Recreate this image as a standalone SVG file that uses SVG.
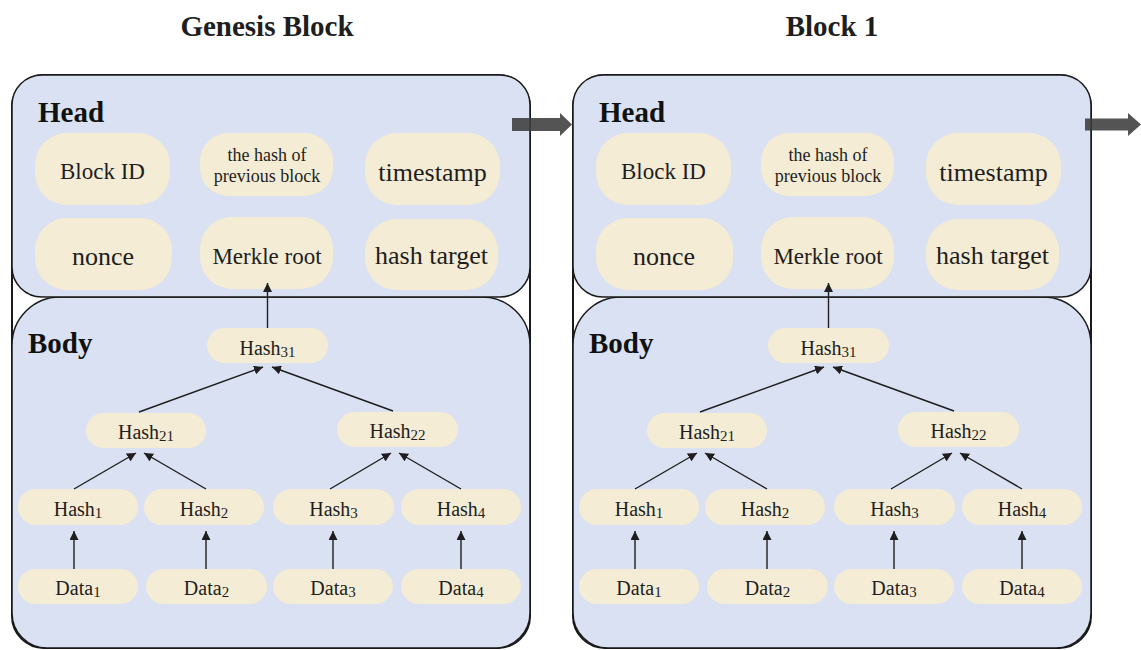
<svg xmlns="http://www.w3.org/2000/svg" width="1141" height="650" viewBox="0 0 1141 650">
<style>
.frame{fill:#ffffff;stroke:#1a1a1a;stroke-width:2}
.panel{fill:#d9e1f2;stroke:#1a1a1a;stroke-width:1.5}
.pill{fill:#f4ecd4;stroke:none}
.t{font-family:"Liberation Serif","Times New Roman",serif;fill:#1e1e1e;text-anchor:middle}
.title{font-family:"Liberation Serif","Times New Roman",serif;font-weight:bold;font-size:29px;fill:#1e1e1e;text-anchor:middle}
.lbl{font-family:"Liberation Serif","Times New Roman",serif;font-weight:bold;font-size:29px;fill:#111}
.big{font-size:26px}
.mid{font-size:23px}
.sm{font-size:18px}
.h{font-size:20px}
.sub{font-size:15px}
.conn{stroke:#1e1e1e;stroke-width:1.4;fill:none;marker-end:url(#ah)}
.blk{fill:#3c3c3c;opacity:0.88}
</style>
<defs>
<marker id="ah" viewBox="0 0 10 10" refX="10" refY="5" markerWidth="9" markerHeight="9" markerUnits="userSpaceOnUse" orient="auto">
<path d="M0,0 L10,5 L0,10 z" fill="#1e1e1e"/>
</marker>
</defs>

<text class="title" x="267" y="36">Genesis Block</text>
<text class="title" x="832" y="36">Block 1</text>

<g id="block0">
  <rect class="frame" x="12" y="75" width="518" height="573" rx="32"/>
  <path class="panel" d="M60,297 H482 A48,48 0 0 1 530,345 V613 A35,35 0 0 1 495,648 H47 A35,35 0 0 1 12,613 V345 A48,48 0 0 1 60,297 Z"/>
  <rect class="panel" x="12" y="75" width="518" height="222" rx="30"/>
  <text class="lbl" x="38" y="122">Head</text>
  <text class="lbl" x="28" y="353">Body</text>
  <g id="b0-blockid"><rect class="pill" x="35" y="133" width="135" height="72" rx="32"/><text class="t mid" x="102.5" y="179">Block ID</text></g>
  <g id="b0-prevhash"><rect class="pill" x="200" y="133" width="133" height="63" rx="28"/><text class="t sm" x="267" y="161">the hash of</text><text class="t sm" x="267" y="182">previous block</text></g>
  <g id="b0-timestamp"><rect class="pill" x="365" y="133" width="135" height="72" rx="32"/><text class="t big" x="432.5" y="181">timestamp</text></g>
  <g id="b0-nonce"><rect class="pill" x="35" y="218" width="137" height="72" rx="32"/><text class="t big" x="103" y="265">nonce</text></g>
  <g id="b0-merkle"><rect class="pill" x="200" y="217" width="133" height="72" rx="32"/><text class="t mid" x="267" y="264">Merkle root</text></g>
  <g id="b0-target"><rect class="pill" x="365" y="219" width="133" height="71" rx="32"/><text class="t big" x="431.5" y="264">hash target</text></g>
  <g id="b0-hash31"><rect class="pill" x="207" y="328" width="121" height="35" rx="17.5"/><text class="t h" x="267.5" y="355">Hash<tspan class="sub" dy="2">31</tspan></text></g>
  <g id="b0-hash21"><rect class="pill" x="86" y="413" width="120" height="35" rx="17.5"/><text class="t h" x="146" y="439">Hash<tspan class="sub" dy="2">21</tspan></text></g>
  <g id="b0-hash22"><rect class="pill" x="337" y="412" width="121" height="35" rx="17.5"/><text class="t h" x="397.5" y="438">Hash<tspan class="sub" dy="2">22</tspan></text></g>
  <g id="b0-hash1"><rect class="pill" x="18" y="489" width="120" height="36" rx="18"/><text class="t h" x="78" y="516">Hash<tspan class="sub" dy="2">1</tspan></text></g>
  <g id="b0-hash2"><rect class="pill" x="144" y="489" width="120" height="36" rx="18"/><text class="t h" x="204" y="516">Hash<tspan class="sub" dy="2">2</tspan></text></g>
  <g id="b0-hash3"><rect class="pill" x="273" y="489" width="121" height="36" rx="18"/><text class="t h" x="333.5" y="516">Hash<tspan class="sub" dy="2">3</tspan></text></g>
  <g id="b0-hash4"><rect class="pill" x="401" y="489" width="120" height="36" rx="18"/><text class="t h" x="461" y="516">Hash<tspan class="sub" dy="2">4</tspan></text></g>
  <g id="b0-data1"><rect class="pill" x="18" y="569" width="120" height="35" rx="17.5"/><text class="t h" x="78" y="595">Data<tspan class="sub" dy="2">1</tspan></text></g>
  <g id="b0-data2"><rect class="pill" x="146" y="569" width="121" height="35" rx="17.5"/><text class="t h" x="206.5" y="595">Data<tspan class="sub" dy="2">2</tspan></text></g>
  <g id="b0-data3"><rect class="pill" x="273" y="569" width="120" height="35" rx="17.5"/><text class="t h" x="333" y="595">Data<tspan class="sub" dy="2">3</tspan></text></g>
  <g id="b0-data4"><rect class="pill" x="401" y="569" width="120" height="35" rx="17.5"/><text class="t h" x="461" y="595">Data<tspan class="sub" dy="2">4</tspan></text></g>
  <g id="b0-connectors">
    <path class="conn" d="M267.5,328 L267.5,283"/>
    <path class="conn" d="M139,412 L263,367"/>
    <path class="conn" d="M393,411 L272,367"/>
    <path class="conn" d="M74,489 L136,453"/>
    <path class="conn" d="M206,489 L144,453"/>
    <path class="conn" d="M330,489 L391,453"/>
    <path class="conn" d="M461,489 L399,453"/>
    <path class="conn" d="M74,569 L74,531"/>
    <path class="conn" d="M206,569 L206,531"/>
    <path class="conn" d="M333,569 L333,531"/>
    <path class="conn" d="M461,569 L461,531"/>
  </g>
</g>

<g id="block1" transform="translate(561,0)">
  <rect class="frame" x="12" y="75" width="518" height="573" rx="32"/>
  <path class="panel" d="M60,297 H482 A48,48 0 0 1 530,345 V613 A35,35 0 0 1 495,648 H47 A35,35 0 0 1 12,613 V345 A48,48 0 0 1 60,297 Z"/>
  <rect class="panel" x="12" y="75" width="518" height="222" rx="30"/>
  <text class="lbl" x="38" y="122">Head</text>
  <text class="lbl" x="28" y="353">Body</text>
  <g id="b1-blockid"><rect class="pill" x="35" y="133" width="135" height="72" rx="32"/><text class="t mid" x="102.5" y="179">Block ID</text></g>
  <g id="b1-prevhash"><rect class="pill" x="200" y="133" width="133" height="63" rx="28"/><text class="t sm" x="267" y="161">the hash of</text><text class="t sm" x="267" y="182">previous block</text></g>
  <g id="b1-timestamp"><rect class="pill" x="365" y="133" width="135" height="72" rx="32"/><text class="t big" x="432.5" y="181">timestamp</text></g>
  <g id="b1-nonce"><rect class="pill" x="35" y="218" width="137" height="72" rx="32"/><text class="t big" x="103" y="265">nonce</text></g>
  <g id="b1-merkle"><rect class="pill" x="200" y="217" width="133" height="72" rx="32"/><text class="t mid" x="267" y="264">Merkle root</text></g>
  <g id="b1-target"><rect class="pill" x="365" y="219" width="133" height="71" rx="32"/><text class="t big" x="431.5" y="264">hash target</text></g>
  <g id="b1-hash31"><rect class="pill" x="207" y="328" width="121" height="35" rx="17.5"/><text class="t h" x="267.5" y="355">Hash<tspan class="sub" dy="2">31</tspan></text></g>
  <g id="b1-hash21"><rect class="pill" x="86" y="413" width="120" height="35" rx="17.5"/><text class="t h" x="146" y="439">Hash<tspan class="sub" dy="2">21</tspan></text></g>
  <g id="b1-hash22"><rect class="pill" x="337" y="412" width="121" height="35" rx="17.5"/><text class="t h" x="397.5" y="438">Hash<tspan class="sub" dy="2">22</tspan></text></g>
  <g id="b1-hash1"><rect class="pill" x="18" y="489" width="120" height="36" rx="18"/><text class="t h" x="78" y="516">Hash<tspan class="sub" dy="2">1</tspan></text></g>
  <g id="b1-hash2"><rect class="pill" x="144" y="489" width="120" height="36" rx="18"/><text class="t h" x="204" y="516">Hash<tspan class="sub" dy="2">2</tspan></text></g>
  <g id="b1-hash3"><rect class="pill" x="273" y="489" width="121" height="36" rx="18"/><text class="t h" x="333.5" y="516">Hash<tspan class="sub" dy="2">3</tspan></text></g>
  <g id="b1-hash4"><rect class="pill" x="401" y="489" width="120" height="36" rx="18"/><text class="t h" x="461" y="516">Hash<tspan class="sub" dy="2">4</tspan></text></g>
  <g id="b1-data1"><rect class="pill" x="18" y="569" width="120" height="35" rx="17.5"/><text class="t h" x="78" y="595">Data<tspan class="sub" dy="2">1</tspan></text></g>
  <g id="b1-data2"><rect class="pill" x="146" y="569" width="121" height="35" rx="17.5"/><text class="t h" x="206.5" y="595">Data<tspan class="sub" dy="2">2</tspan></text></g>
  <g id="b1-data3"><rect class="pill" x="273" y="569" width="120" height="35" rx="17.5"/><text class="t h" x="333" y="595">Data<tspan class="sub" dy="2">3</tspan></text></g>
  <g id="b1-data4"><rect class="pill" x="401" y="569" width="120" height="35" rx="17.5"/><text class="t h" x="461" y="595">Data<tspan class="sub" dy="2">4</tspan></text></g>
  <g id="b1-connectors">
    <path class="conn" d="M267.5,328 L267.5,283"/>
    <path class="conn" d="M139,412 L263,367"/>
    <path class="conn" d="M393,411 L272,367"/>
    <path class="conn" d="M74,489 L136,453"/>
    <path class="conn" d="M206,489 L144,453"/>
    <path class="conn" d="M330,489 L391,453"/>
    <path class="conn" d="M461,489 L399,453"/>
    <path class="conn" d="M74,569 L74,531"/>
    <path class="conn" d="M206,569 L206,531"/>
    <path class="conn" d="M333,569 L333,531"/>
    <path class="conn" d="M461,569 L461,531"/>
  </g>
</g>

<g id="chain-arrows">
  <path class="blk" d="M512,118 H560 V113 L572,124.5 L560,136 V131 H512 Z"/>
  <path class="blk" d="M1085,118.5 H1128 V113 L1141,124.5 L1128,136 V130.5 H1085 Z"/>
</g>
</svg>
